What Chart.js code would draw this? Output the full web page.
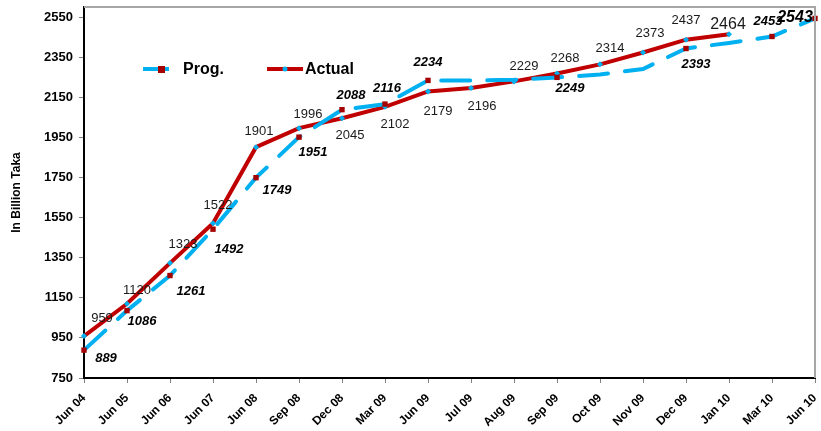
<!DOCTYPE html>
<html>
<head>
<meta charset="utf-8">
<script src="https://cdn.jsdelivr.net/npm/chart.js@4.4.1/dist/chart.umd.min.js"></script>
<style>
  html, body { margin: 0; padding: 0; background: #fff; }
  #wrap { width: 821px; height: 431px; }
</style>
</head>
<body>
<div id="wrap"><canvas id="chart" width="821" height="431"></canvas></div>
<script>
// data
const categories = ['Jun 04','Jun 05','Jun 06','Jun 07','Jun 08','Sep 08','Dec 08','Mar 09','Jun 09','Jul 09','Aug 09','Sep 09','Oct 09','Nov 09','Dec 09','Jan 10','Mar 10','Jun 10']
const actual = [959,1120,1323,1522,1901,1996,2045,2102,2179,2196,2229,2268,2314,2373,2437,2464,null,null]
const prog = [889,1086,1261,1492,1749,1951,2088,2116,2234,2234,2237,2249,2263,2291,2393,2421,2453,2543]
// which prog points carry a marker + value label
const progMarked = [1,1,1,1,1,1,1,1,1,0,0,1,0,0,1,0,1,1]
const yTicks = [750,950,1150,1350,1550,1750,1950,2150,2350,2550]

// label placement (dx, dy from the point)
const actualOffsets = [[18,-18],[10,-13],[13,-19],[5,-18],[3,-16],[9,-14],[8,17],[10,18],[10,20],[11,18],[10,-15],[8,-15],[10,-16],[7,-19],[0,-19],[-1,-10]]
const progOffsets = {0:[22,8],1:[15,11],2:[21,16],3:[16,20],4:[21,13],5:[14,15],6:[9,-14],7:[2,-16],8:[0,-18],11:[13,11],14:[10,16],16:[-4,-15],17:[-20,-1]}

const FONT = "'Liberation Sans', Arial, sans-serif"
const RED = '#C00000'
const CYAN = '#00B0F0'
const SQ = '#A50000'

let labelPlugin = {
  id: 'labels',
  afterDatasetsDraw(chart) {
    let ctx = chart.ctx
    ctx.save()
    ctx.textAlign = 'center'
    ctx.textBaseline = 'middle'

    // prog labels, bold italic
    let pm = chart.getDatasetMeta(0)
    pm.data.forEach((pt, i) => {
      let off = progOffsets[i]
      if (!off || !progMarked[i]) return
      ctx.fillStyle = '#000'
      ctx.font = 'italic bold ' + (i === 17 ? 16 : 13) + 'px ' + FONT
      ctx.fillText(String(prog[i]), pt.x + off[0], pt.y + off[1])
    })

    // actual labels, normal
    let am = chart.getDatasetMeta(1)
    am.data.forEach((pt, i) => {
      if (actual[i] == null) return
      let off = actualOffsets[i]
      ctx.fillStyle = '#1a1a1a'
      ctx.font = (i === 15 ? 16 : 13) + 'px ' + FONT
      ctx.fillText(String(actual[i]), pt.x + off[0], pt.y + off[1])
    })

    // top + right frame
    let a = chart.chartArea
    ctx.strokeStyle = '#a6a6a6'
    ctx.lineWidth = 2
    ctx.beginPath()
    ctx.moveTo(a.left, a.top)
    ctx.lineTo(a.right, a.top)
    ctx.lineTo(a.right, a.bottom)
    ctx.stroke()

    // legend inside the plot
    ctx.lineCap = 'butt'
    ctx.lineWidth = 4
    ctx.strokeStyle = CYAN
    ctx.beginPath(); ctx.moveTo(143, 69); ctx.lineTo(169, 69); ctx.stroke()
    ctx.fillStyle = SQ
    ctx.fillRect(158, 66, 7, 7)
    ctx.strokeStyle = RED
    ctx.beginPath(); ctx.moveTo(267, 69); ctx.lineTo(303, 69); ctx.stroke()
    ctx.fillStyle = CYAN
    ctx.beginPath(); ctx.arc(285, 69, 2.5, 0, Math.PI * 2); ctx.fill()

    ctx.fillStyle = '#000'
    ctx.font = 'bold 16px ' + FONT
    ctx.textAlign = 'left'
    ctx.fillText('Prog.', 183, 70)
    ctx.fillText('Actual', 305, 70)
    ctx.restore()
  }
}

new Chart(document.getElementById('chart'), {
  type: 'line',
  data: {
    labels: categories,
    datasets: [
      {
        label: 'Prog.',
        data: prog,
        borderColor: CYAN,
        borderWidth: 4,
        borderDash: [29, 17],
        borderCapStyle: 'round',
        tension: 0,
        pointStyle: 'rect',
        pointRadius: progMarked.map(m => m ? 3.8 : 0),
        pointBackgroundColor: SQ,
        pointBorderWidth: 0
      },
      {
        label: 'Actual',
        data: actual,
        borderColor: RED,
        borderWidth: 4,
        tension: 0,
        pointStyle: 'rectRot',
        pointRadius: 3,
        pointBackgroundColor: CYAN,
        pointBorderWidth: 0
      }
    ]
  },
  options: {
    responsive: false,
    animation: false,
    devicePixelRatio: 1,
    layout: { padding: { left: 0, top: 7, right: 6, bottom: 0 } },
    plugins: { legend: { display: false }, tooltip: { enabled: false } },
    scales: {
      x: {
        offset: false,
        grid: { display: true, drawOnChartArea: false, color: '#808080', tickLength: 5 },
        border: { color: '#000', width: 2 },
        ticks: {
          autoSkip: false, minRotation: 45, maxRotation: 45, padding: 8,
          color: '#000', font: { family: FONT, size: 12, weight: 'bold' }
        },
        afterFit(s) { s.height = 53; s.paddingLeft = 0; s.paddingRight = 0 }
      },
      y: {
        min: 750,
        max: 2600,
        afterBuildTicks(s) { s.ticks = yTicks.map(v => ({ value: v })) },
        grid: { display: true, drawOnChartArea: false, color: '#808080', tickLength: 5 },
        border: { color: '#000', width: 2 },
        ticks: {
          padding: 6, color: '#000', font: { family: FONT, size: 13, weight: 'bold' },
          callback: v => String(v)
        },
        title: {
          display: true, text: 'In Billion Taka', color: '#000',
          padding: { top: 9, bottom: 0 },
          font: { family: FONT, size: 12, weight: 'bold' }
        },
        afterFit(s) { s.width = 84; s.paddingTop = 0; s.paddingBottom = 0 }
      }
    }
  },
  plugins: [labelPlugin]
})
</script>
</body>
</html>
